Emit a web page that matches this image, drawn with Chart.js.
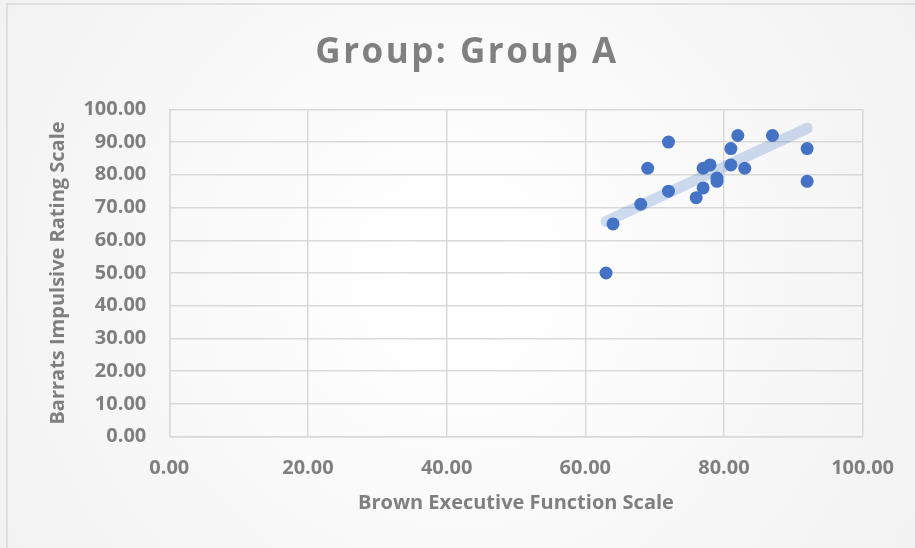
<!DOCTYPE html>
<html>
<head>
<meta charset="utf-8">
<script src="https://cdn.jsdelivr.net/npm/chart.js@4.4.1/dist/chart.umd.min.js"></script>
<style>
  html, body { margin: 0; padding: 0; background: #fff; }
  #wrap { width: 915px; height: 548px; position: relative; }
</style>
</head>
<body>
<div id="wrap"><canvas id="grupoA" width="915" height="548"></canvas></div>
<script>
// Datos (Brown vs Barrats)
const brownValues = [63, 64, 68, 69, 72, 72, 76, 77, 77, 78, 79, 79, 81, 81, 82, 83, 87, 92, 92];
const barratsValues = [50, 65, 71, 82, 90, 75, 73, 76, 82, 83, 79, 78, 88, 83, 92, 82, 92, 88, 78];

// Línea de tendencia (extremos)
const trendX = [63, 92];
const trendY = [65.7, 94.2];

const chartTitle = 'Group: Group A';
const xAxisTitle = 'Brown Executive Function Scale';
const yAxisTitle = 'Barrats Impulsive Rating Scale';

const grisTexto = '#7f7f7f';
const grisGrid = '#d9d9d9';
const azul = '#4472c4';

// Fondo con degradado y borde del área del gráfico
const fondoPlugin = {
    id: 'fondo',
    beforeDraw(chart) {
        const ctx = chart.ctx;
        const w = chart.width, h = chart.height;
        ctx.save();
        const grad = ctx.createRadialGradient(w / 2, h / 2, 50, w / 2, h / 2, w * 0.62);
        grad.addColorStop(0, '#ffffff');
        grad.addColorStop(1, '#f1f1f1');
        ctx.fillStyle = grad;
        ctx.fillRect(0, 0, w, h);
        ctx.strokeStyle = '#d9d9d9';
        ctx.lineWidth = 1.5;
        ctx.strokeRect(7, 4, w + 10, h + 10);
        ctx.restore();
    }
};

// Título con espaciado entre letras
const tituloPlugin = {
    id: 'tituloGrupo',
    afterDraw(chart) {
        const ctx = chart.ctx;
        ctx.save();
        ctx.font = 'bold 35px "Open Sans"';
        ctx.letterSpacing = '2.5px';
        ctx.fillStyle = '#808080';
        ctx.textAlign = 'center';
        ctx.textBaseline = 'alphabetic';
        ctx.fillText(chartTitle, 467, 62.5);
        ctx.restore();
    }
};

const ctx = document.getElementById('grupoA').getContext('2d');
const scatterChart = new Chart(ctx, {
    type: 'scatter',
    data: {
        datasets: [
            {
                label: 'Group A',
                data: brownValues.map((x, i) => ({ x: x, y: barratsValues[i] })),
                backgroundColor: azul,
                borderColor: azul,
                borderWidth: 0,
                pointRadius: 6.5,
                pointHoverRadius: 6.5
            },
            {
                label: 'Tendencia',
                type: 'line',
                data: trendX.map((x, i) => ({ x: x, y: trendY[i] })),
                borderColor: 'rgba(68, 114, 196, 0.25)',
                borderWidth: 11,
                borderCapStyle: 'round',
                pointRadius: 0,
                fill: false
            }
        ]
    },
    options: {
        responsive: false,
        animation: false,
        layout: {
            padding: { left: 0, right: 52.4, top: 109.3, bottom: 0 }
        },
        plugins: {
            legend: { display: false },
            title: { display: false },
            tooltip: { enabled: false }
        },
        scales: {
            x: {
                type: 'linear',
                min: 0,
                max: 100,
                ticks: {
                    stepSize: 20,
                    padding: 20,
                    color: grisTexto,
                    font: { family: 'Open Sans', size: 20, weight: 'bold' },
                    callback: v => v.toFixed(2)
                },
                grid: { color: grisGrid, lineWidth: 1.5, drawTicks: false },
                border: { color: grisGrid, width: 1.5 },
                title: {
                    display: true,
                    text: xAxisTitle,
                    color: grisTexto,
                    font: { family: 'Open Sans', size: 20, weight: 'bold' },
                    padding: { top: 0, bottom: 33 }
                },
                afterFit(scale) { scale.height = 111.3; }
            },
            y: {
                type: 'linear',
                min: 0,
                max: 100,
                ticks: {
                    stepSize: 10,
                    padding: 23,
                    color: grisTexto,
                    font: { family: 'Open Sans', size: 20, weight: 'bold' },
                    callback: v => v.toFixed(2)
                },
                grid: { color: grisGrid, lineWidth: 1.5, drawTicks: false },
                border: { color: grisGrid, width: 1.5 },
                title: {
                    display: true,
                    text: yAxisTitle,
                    color: grisTexto,
                    font: { family: 'Open Sans', size: 20, weight: 'bold' },
                    padding: { top: 46, bottom: 0 }
                },
                afterFit(scale) { scale.width = 169.3; }
            }
        }
    },
    plugins: [fondoPlugin, tituloPlugin]
});
</script>
</body>
</html>
